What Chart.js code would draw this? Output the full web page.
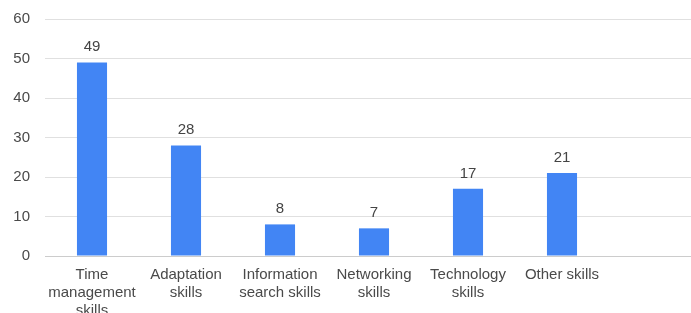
<!DOCTYPE html>
<html>
<head>
<meta charset="utf-8">
<script src="https://cdn.jsdelivr.net/npm/chart.js@4/dist/chart.umd.min.js"></script>
<style>
  html, body { margin: 0; padding: 0; background: #fff; overflow: hidden; }
  #wrap { width: 703px; height: 313px; }
</style>
</head>
<body>
<div id="wrap"><canvas id="skillsChart" width="703" height="313"></canvas></div>
<script>
// categories (wrapped the way the reference wraps them)
const categories = [
    ['Time', 'management', 'skills'],
    ['Adaptation', 'skills'],
    ['Information', 'search skills'],
    ['Networking', 'skills'],
    ['Technology', 'skills'],
    ['Other skills']
];
const counts = [49, 28, 8, 7, 17, 21];
const yTicks = [0, 10, 20, 30, 40, 50, 60];

// value labels above each bar
const barValues = {
    id: 'barValues',
    afterDatasetsDraw(chart) {
        const ctx = chart.ctx;
        ctx.save();
        ctx.font = '15px "Liberation Sans", Arial, sans-serif';
        ctx.fillStyle = '#444';
        ctx.textAlign = 'center';
        ctx.textBaseline = 'alphabetic';
        chart.getDatasetMeta(0).data.forEach(function (bar, i) {
            ctx.fillText(counts[i], bar.x, bar.y - 11);
        });
        ctx.restore();
    }
};

new Chart(document.getElementById('skillsChart').getContext('2d'), {
    type: 'bar',
    data: {
        labels: categories.concat(['']),
        datasets: [{
            data: counts,
            backgroundColor: '#4285F4',
            categoryPercentage: 1,
            barPercentage: 0.32
        }]
    },
    options: {
        responsive: false,
        animation: false,
        layout: { padding: { top: 19, right: 0, left: 0, bottom: 0 } },
        plugins: { legend: { display: false }, tooltip: { enabled: false } },
        scales: {
            x: {
                grid: { display: false },
                border: { display: false },
                ticks: {
                    color: '#4a4a4a',
                    font: { family: '"Liberation Sans", Arial, sans-serif', size: 15, lineHeight: 1.2 },
                    padding: 2,
                    maxRotation: 0,
                    autoSkip: false
                },
                afterFit(axis) { axis.height = 57; }
            },
            y: {
                min: 0,
                max: 60,
                afterBuildTicks(axis) { axis.ticks = yTicks.map(v => ({ value: v })); },
                grid: {
                    drawTicks: false,
                    color: ctx => ctx.tick && ctx.tick.value === 0 ? '#cccccc' : '#e0e0e0'
                },
                border: { display: false },
                ticks: {
                    color: '#4a4a4a',
                    font: { family: '"Liberation Sans", Arial, sans-serif', size: 15 },
                    padding: 15
                },
                afterFit(axis) {
                    axis.width = 45;
                    axis.paddingTop = 0;
                    axis.paddingBottom = 0;
                }
            }
        }
    },
    plugins: [barValues]
});
</script>
</body>
</html>
